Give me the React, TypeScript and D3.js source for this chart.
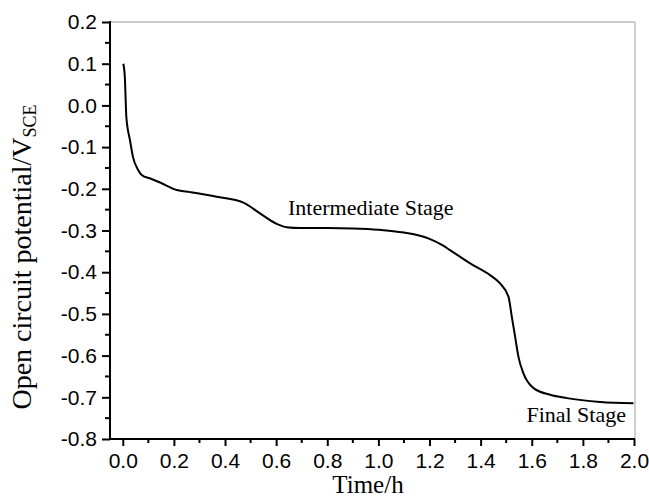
import React, { useEffect, useRef } from "react";
import * as d3 from "d3";

// time (h) and open circuit potential (V vs SCE)
const timeH = [
  0.002, 0.008, 0.014, 0.028, 0.04, 0.06, 0.074, 0.11, 0.146, 0.211, 0.263,
  0.367, 0.472, 0.537, 0.602, 0.641, 0.694, 0.8, 0.9, 1.0, 1.1, 1.2, 1.25,
  1.28, 1.359, 1.437, 1.476, 1.509, 1.522, 1.535, 1.548, 1.567, 1.607, 1.672,
  1.737, 1.868, 1.998,
];
const potential = [
  0.1, 0.068, -0.028, -0.083, -0.124, -0.155, -0.167, -0.176, -0.185, -0.203,
  -0.208, -0.219, -0.233, -0.259, -0.284, -0.292, -0.294, -0.294, -0.295,
  -0.298, -0.305, -0.32, -0.335, -0.347, -0.379, -0.407, -0.427, -0.459,
  -0.507, -0.555, -0.603, -0.642, -0.678, -0.694, -0.702, -0.711, -0.714,
];
const xTicks = [0.0, 0.2, 0.4, 0.6, 0.8, 1.0, 1.2, 1.4, 1.6, 1.8, 2.0];
const yTicks = [0.2, 0.1, 0.0, -0.1, -0.2, -0.3, -0.4, -0.5, -0.6, -0.7, -0.8];

// plain hyphen minus like the original, not the unicode one d3 uses
const fmt = (d: number) => d.toFixed(1).replace("\u2212", "-");

const App = () => {
  const svgRef = useRef<SVGSVGElement>(null);

  useEffect(() => {
    const svg = d3.select(svgRef.current);
    svg.selectAll("*").remove();

    const left = 110;
    const right = 634;
    const top = 22;
    const bottom = 439;

    const x = d3.scaleLinear().domain([-0.05, 2.0]).range([left, right]);
    const y = d3.scaleLinear().domain([-0.8, 0.2]).range([bottom, top]);

    const sans = "'Liberation Sans', Arial, sans-serif";
    const serif = "'Liberation Serif', 'Times New Roman', serif";

    // frame: gray top and right
    svg
      .append("line")
      .attr("x1", left)
      .attr("x2", right + 1)
      .attr("y1", top)
      .attr("y2", top)
      .attr("stroke", "#9a9a9a")
      .attr("stroke-width", 1);
    svg
      .append("line")
      .attr("x1", right + 1)
      .attr("x2", right + 1)
      .attr("y1", top)
      .attr("y2", bottom)
      .attr("stroke", "#cfcfcf")
      .attr("stroke-width", 2);

    // x axis
    const minorX = d3.range(0, 10).map((i) => 0.1 + i * 0.2);
    const xAxis = svg
      .append("g")
      .attr("transform", `translate(0,${bottom})`)
      .call(
        d3
          .axisBottom(x)
          .tickValues(xTicks)
          .tickSize(7)
          .tickPadding(7)
          .tickFormat((d) => fmt(d as number))
      );
    xAxis.select(".domain").remove();
    xAxis.selectAll("line").attr("stroke", "#000").attr("stroke-width", 2);
    xAxis
      .selectAll("text")
      .attr("font-family", sans)
      .attr("font-size", 21)
      .attr("fill", "#000");
    svg
      .append("g")
      .selectAll("line")
      .data(minorX)
      .enter()
      .append("line")
      .attr("x1", (d) => x(d))
      .attr("x2", (d) => x(d))
      .attr("y1", bottom)
      .attr("y2", bottom + 4)
      .attr("stroke", "#000")
      .attr("stroke-width", 2);

    // y axis
    const minorY = d3.range(0, 10).map((i) => -0.75 + i * 0.1);
    const yAxis = svg
      .append("g")
      .attr("transform", `translate(${left},0)`)
      .call(
        d3
          .axisLeft(y)
          .tickValues(yTicks)
          .tickSize(8)
          .tickPadding(5)
          .tickFormat((d) => fmt(d as number))
      );
    yAxis.select(".domain").remove();
    yAxis.selectAll("line").attr("stroke", "#000").attr("stroke-width", 2);
    yAxis
      .selectAll("text")
      .attr("font-family", sans)
      .attr("font-size", 21)
      .attr("fill", "#000");
    svg
      .append("g")
      .selectAll("line")
      .data(minorY)
      .enter()
      .append("line")
      .attr("x1", left - 5)
      .attr("x2", left)
      .attr("y1", (d) => y(d))
      .attr("y2", (d) => y(d))
      .attr("stroke", "#000")
      .attr("stroke-width", 2);

    // axis lines
    svg
      .append("line")
      .attr("x1", left)
      .attr("x2", right + 1)
      .attr("y1", bottom)
      .attr("y2", bottom)
      .attr("stroke", "#000")
      .attr("stroke-width", 2);
    svg
      .append("line")
      .attr("x1", left)
      .attr("x2", left)
      .attr("y1", top - 1)
      .attr("y2", bottom + 1)
      .attr("stroke", "#000")
      .attr("stroke-width", 2);

    // curve
    const pts = timeH.map((t, i) => [t, potential[i]] as [number, number]);
    const line = d3
      .line<[number, number]>()
      .x((d) => x(d[0]))
      .y((d) => y(d[1]))
      .curve(d3.curveMonotoneX);
    svg
      .append("path")
      .attr("d", line(pts))
      .attr("fill", "none")
      .attr("stroke", "#000")
      .attr("stroke-width", 2);

    // annotations
    svg
      .append("text")
      .attr("x", 288)
      .attr("y", 215)
      .attr("font-family", serif)
      .attr("font-size", 22)
      .text("Intermediate Stage");
    svg
      .append("text")
      .attr("x", 626)
      .attr("y", 422)
      .attr("text-anchor", "end")
      .attr("font-family", serif)
      .attr("font-size", 22)
      .text("Final Stage");

    // axis titles
    svg
      .append("text")
      .attr("x", 368)
      .attr("y", 493)
      .attr("text-anchor", "middle")
      .attr("font-family", serif)
      .attr("font-size", 25)
      .text("Time/h");

    const yTitle = svg
      .append("text")
      .attr("transform", `translate(31,257) rotate(-90)`)
      .attr("text-anchor", "middle")
      .attr("font-family", serif)
      .attr("font-size", 28);
    yTitle.append("tspan").text("Open circuit potential/V");
    yTitle
      .append("tspan")
      .attr("font-size", 18)
      .attr("dy", 5)
      .text("SCE");
  }, []);

  return (
    <svg
      ref={svgRef}
      width={649}
      height={500}
      style={{ position: "absolute", left: 0, top: 0, background: "#fff" }}
    />
  );
};

export default App;
